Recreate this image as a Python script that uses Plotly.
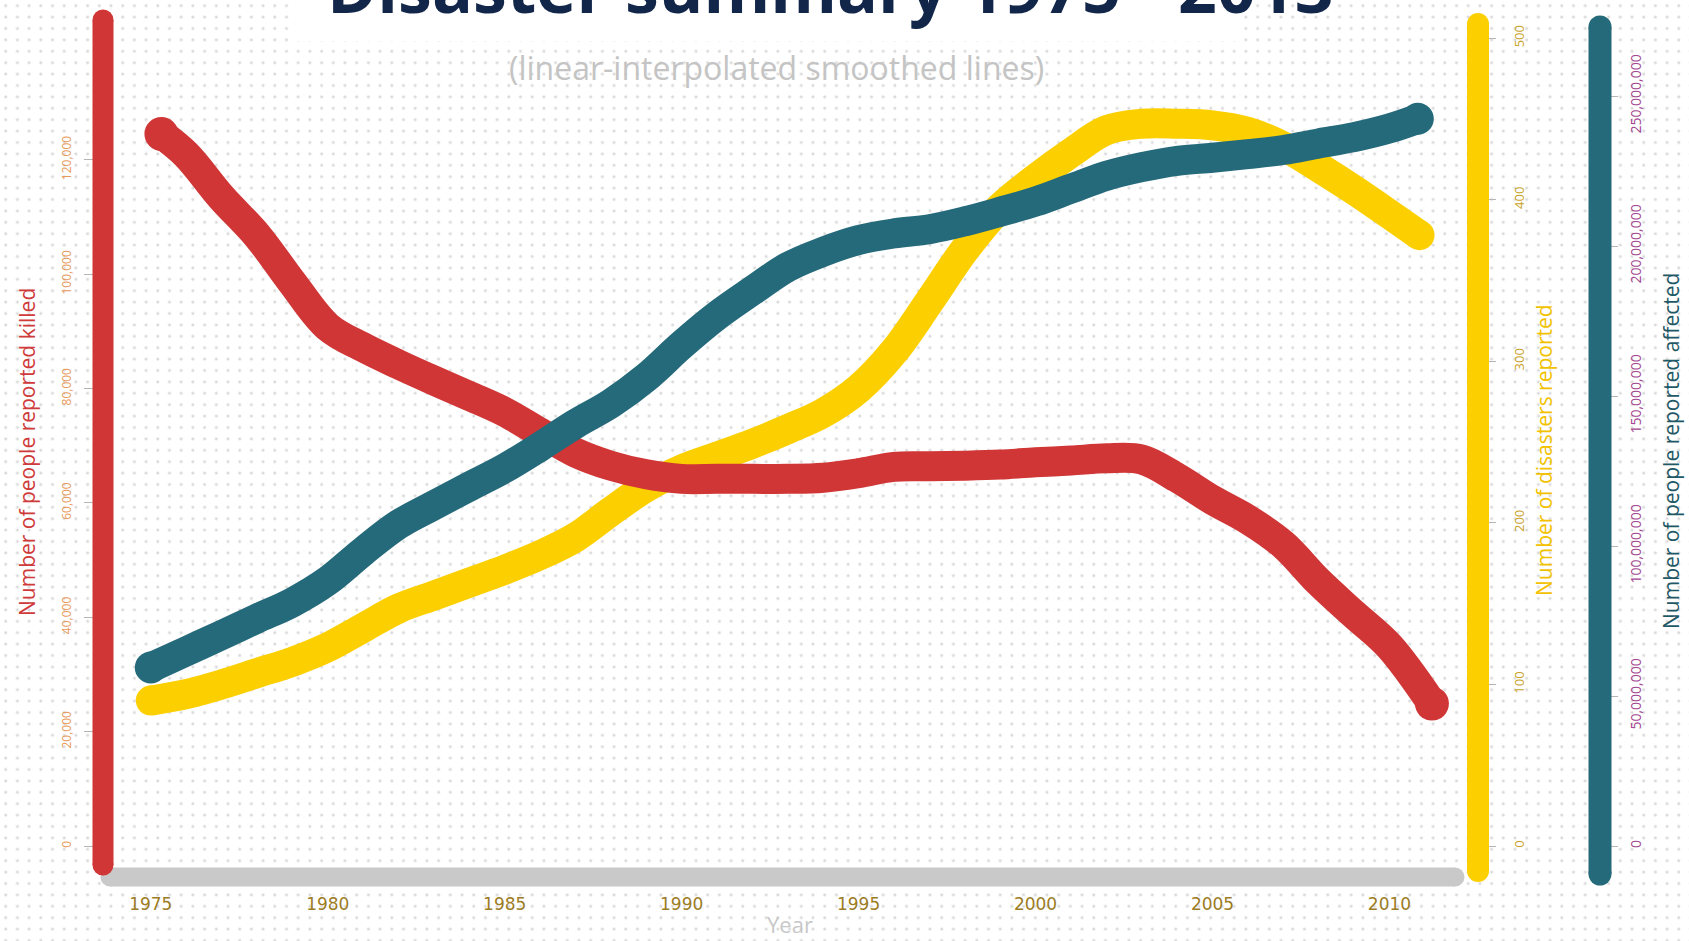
import base64
import plotly.graph_objects as go

W, H = 1689, 941

# ---------------- data ----------------
killed_years = [1975.3, 1976, 1977, 1978, 1979, 1980, 1981, 1982, 1983, 1984, 1985,
                1986, 1987, 1988, 1989, 1990, 1991, 1992, 1993, 1994, 1995, 1996,
                1997, 1998, 1999, 2000, 2001, 2002, 2003, 2004, 2005, 2006, 2007,
                2008, 2009, 2010, 2011.2]
killed = [124500, 120900, 113400, 106800, 98500, 90800, 87200, 84200, 81400, 78700, 75900,
          72300, 68800, 66500, 65000, 64200, 64200, 64200, 64200, 64400, 65200, 66300,
          66400, 66500, 66700, 67100, 67400, 67800, 67600, 64400, 60500, 57100, 52700,
          46200, 40500, 34900, 24900]

disasters_years = [1975, 1976, 1977, 1978, 1979, 1980, 1981, 1982, 1983, 1984, 1985,
                   1986, 1987, 1988, 1989, 1990, 1991, 1992, 1993, 1994, 1995, 1996,
                   1997, 1998, 1999, 2000, 2001, 2002, 2003, 2004, 2005, 2006, 2007,
                   2008, 2009, 2010, 2010.85]
disasters = [90, 94, 100, 107, 114, 123, 135, 147, 155, 163, 171,
             180, 191, 207, 222, 233, 241, 249, 258, 268, 283, 306,
             337, 369, 395, 413, 429, 443, 447, 447, 446, 442, 433,
             420, 406, 391, 378]

affected_years = [1975, 1976, 1977, 1978, 1979, 1980, 1981, 1982, 1983, 1984, 1985,
                  1986, 1987, 1988, 1989, 1990, 1991, 1992, 1993, 1994, 1995, 1996,
                  1997, 1998, 1999, 2000, 2001, 2002, 2003, 2004, 2005, 2006, 2007,
                  2008, 2009, 2010, 2010.8]
affected_millions = [59.5, 64.9, 70.3, 75.8, 81.2, 88.4, 98.2, 107.2, 113.6, 119.8, 125.9,
                     133.1, 140.7, 147.5, 156.2, 167.0, 176.8, 185.1, 193.0, 198.1, 202.0, 204.2,
                     205.6, 208.2, 211.4, 214.8, 219.1, 223.4, 226.3, 228.4, 229.4, 230.6, 232.0,
                     234.2, 236.3, 239.2, 242.4]
affected = [v * 1e6 for v in affected_millions]

year_ticks = [1975, 1980, 1985, 1990, 1995, 2000, 2005, 2010]
killed_ticks = [0, 20000, 40000, 60000, 80000, 100000, 120000]
killed_tick_text = ["0", "20,000", "40,000", "60,000", "80,000", "100,000", "120,000"]
disaster_ticks = [0, 100, 200, 300, 400, 500]
affected_ticks = [0, 50e6, 100e6, 150e6, 200e6, 250e6]
affected_tick_text = ["0", "50,000,000", "100,000,000", "150,000,000", "200,000,000", "250,000,000"]

# ---------------- styling ----------------
RED = "#d13636"
YEL = "#fcd000"
TEAL = "#246a7a"
GREY = "#c9c9c9"
NAVY = "#12264a"
LW = 30


def px(x):
    return x / W


def py(y):
    return 1 - y / H


def caps(n, size=LW):
    return [size] + [0] * (n - 2) + [size]


fig = go.Figure()

# draw order: yellow (bottom), red, teal (top)
fig.add_trace(go.Scatter(
    x=disasters_years, y=disasters, yaxis="y", mode="lines+markers",
    line=dict(color=YEL, width=LW, shape="spline", smoothing=1.0),
    marker=dict(color=YEL, size=caps(len(disasters)), opacity=1, line=dict(width=0)),
    hoverinfo="skip", showlegend=False))
fig.add_trace(go.Scatter(
    x=killed_years, y=killed, yaxis="y2", mode="lines+markers",
    line=dict(color=RED, width=LW, shape="spline", smoothing=1.0),
    marker=dict(color=RED, size=caps(len(killed), 34), opacity=1, line=dict(width=0)),
    hoverinfo="skip", showlegend=False))
fig.add_trace(go.Scatter(
    x=affected_years, y=affected, yaxis="y3", mode="lines+markers",
    line=dict(color=TEAL, width=LW, shape="spline", smoothing=1.0),
    marker=dict(color=TEAL, size=caps(len(affected), 32), opacity=1, line=dict(width=0)),
    hoverinfo="skip", showlegend=False))

# axis geometry (pixels)
X_LEFT, X_RIGHT = 103, 1478
Y_BOT, Y_TOP = 877, 20
ZERO_PX = 846
YEAR0_PX, YEAR_STEP = 150.8, 35.39

xr0 = 1975 - (YEAR0_PX - X_LEFT) / YEAR_STEP
xr1 = 1975 + (X_RIGHT - YEAR0_PX) / YEAR_STEP


def yrange(per_px):
    return [-(Y_BOT - ZERO_PX) * per_px, (ZERO_PX - Y_TOP) * per_px]


red_range = yrange(20000 / 114.37)
yel_range = yrange(100 / 161.58)
teal_range = yrange(50e6 / 150.0)

common = dict(showgrid=False, zeroline=False, showline=False, tickmode="array",
              tickangle=-90, ticks="outside", tickcolor="#b5b5b5", tickwidth=1)

fig.update_layout(
    width=W, height=H, autosize=False,
    margin=dict(l=0, r=0, t=0, b=0, pad=0),
    paper_bgcolor="#ffffff", plot_bgcolor="rgba(0,0,0,0)",
    font=dict(family="Open Sans"),
    xaxis=dict(domain=[px(X_LEFT), px(X_RIGHT)], range=[xr0, xr1], anchor="y",
               showgrid=False, zeroline=False, showline=False, tickmode="array",
               tickvals=year_ticks, ticktext=[str(v) for v in year_ticks], ticks="",
               tickfont=dict(family="DejaVu Sans", size=17, color="#9c7c24"),
               ticklabelstandoff=15),
    yaxis=dict(domain=[py(Y_BOT), py(Y_TOP)], range=yel_range, side="right", anchor="x",
               tickvals=disaster_ticks, ticktext=[str(v) for v in disaster_ticks],
               ticklen=17, ticklabelstandoff=12,
               tickfont=dict(family="Open Sans", size=13, color="#c9a227"), **common),
    yaxis2=dict(range=red_range, overlaying="y", side="left", anchor="x",
                tickvals=killed_ticks, ticktext=killed_tick_text,
                ticklen=18, ticklabelstandoff=8,
                tickfont=dict(family="Open Sans", size=12, color="#e8995a"), **common),
    yaxis3=dict(range=teal_range, overlaying="y", side="right", anchor="free",
                position=px(1600),
                tickvals=affected_ticks, ticktext=affected_tick_text,
                ticklen=17, ticklabelstandoff=6,
                tickfont=dict(family="Open Sans", size=14, color="#a2448f"), **common),
)

# dotted background texture with white title box
svg = (
    f"<svg xmlns='http://www.w3.org/2000/svg' width='{W}' height='{H}' viewBox='0 0 {W} {H}'>"
    "<defs><pattern id='d' x='0' y='0' width='11.7' height='11.4' patternUnits='userSpaceOnUse'>"
    "<rect x='4.3' y='4.3' width='2.8' height='2.8' rx='1' fill='#dadada'/></pattern></defs>"
    f"<rect width='{W}' height='{H}' fill='#ffffff'/>"
    f"<rect width='{W}' height='{H}' fill='url(#d)'/>"
    "<rect x='294' y='0' width='944' height='41' fill='#ffffff'/>"
    "</svg>"
)
src = "data:image/svg+xml;base64," + base64.b64encode(svg.encode()).decode()
fig.add_layout_image(dict(source=src, xref="paper", yref="paper", x=0, y=1,
                          sizex=1, sizey=1, xanchor="left", yanchor="top",
                          sizing="stretch", layer="below"))

# axis bars (rounded)
shapes = []


def bar(x0, y0, x1, y1, w, color):
    shapes.append(dict(type="line", xref="paper", yref="paper",
                       x0=px(x0), y0=py(y0), x1=px(x1), y1=py(y1),
                       line=dict(color=color, width=w)))
    r = w / 2
    for (cx, cy) in [(x0, y0), (x1, y1)]:
        shapes.append(dict(type="circle", xref="paper", yref="paper",
                           x0=px(cx - r), x1=px(cx + r), y0=py(cy + r), y1=py(cy - r),
                           fillcolor=color, line=dict(width=0)))


bar(110, 877, 1455, 877, 19, GREY)
bar(103, 20, 103, 865, 21, RED)
bar(1478, 24, 1478, 871, 22, YEL)
bar(1600, 27, 1600, 874, 23, TEAL)
fig.update_layout(shapes=shapes)

# texts
ann = [
    dict(text="<b>Disaster summary 1975 - 2013</b>", x=px(830), y=py(-14),
         font=dict(family="Open Sans", size=68, color=NAVY)),
    dict(text="(linear-interpolated smoothed lines)", x=px(776), y=py(67),
         font=dict(family="Open Sans", size=32, color="#c4c4c4")),
    dict(text="Number of people reported killed", x=px(27), y=py(452), textangle=-90,
         font=dict(family="Open Sans", size=21, color="#cf3a3a")),
    dict(text="Number of disasters reported", x=px(1544), y=py(450), textangle=-90,
         font=dict(family="Open Sans", size=21, color="#f2c200")),
    dict(text="Number of people reported affected", x=px(1671), y=py(451), textangle=-90,
         font=dict(family="Open Sans", size=21, color="#1f5866")),
    dict(text="Year", x=px(790), y=py(924),
         font=dict(family="Open Sans", size=22, color="#c8c8c8")),
]
for a in ann:
    a.update(xref="paper", yref="paper", showarrow=False, xanchor="center", yanchor="middle")
fig.update_layout(annotations=ann)

fig.write_html("out.html")
